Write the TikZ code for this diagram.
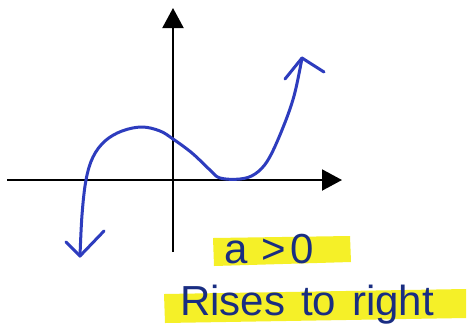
\documentclass[tikz,border=0pt]{standalone}
\usepackage{fontspec}
\setmainfont{Liberation Sans}
\usetikzlibrary{arrows.meta}
\definecolor{curveblue}{RGB}{45,60,190}
\definecolor{inkblue}{RGB}{25,45,130}
\definecolor{hilite}{RGB}{245,240,40}
\tikzset{
  axis/.style={line width=2pt,-{Triangle[length=20pt,width=21pt]}},
  curve/.style={curveblue,line width=3pt,line cap=round,line join=round},
  label/.style={inkblue,font=\fontsize{42}{42}\selectfont,inner sep=0pt,anchor=base west},
}
\begin{document}
\begin{tikzpicture}[x=1pt,y=-1pt]
\useasboundingbox (0,0) rectangle (470,330);
\fill[white] (0,0) rectangle (470,330);
% highlights
\fill[hilite] (213,238) -- (350,236) -- (351,262) -- (214,266) -- cycle;
\fill[hilite] (164,294) -- (466,289) -- (466,318) -- (165,323) -- cycle;
% axes
\coordinate (xl) at (7,180);
\coordinate (xr) at (342,180);
\coordinate (yb) at (173,252);
\coordinate (yt) at (173,8);
\draw[axis] (xl) -- (xr);
\draw[axis] (yb) -- (yt);
% curve
\coordinate (lt) at (80,256);
\coordinate (rt) at (302,58);
\draw[curve] plot[smooth,tension=0.6] coordinates {(lt) (82,215) (86,180) (93,157) (105,141) (122,131) (142,127) (160,131) (173,139) (192,153) (210,170) (220,178) (240,179) (255,174) (268,160) (282,130) (294,96) (rt)};
\draw[curve] (66,242) -- (lt) -- (104,231);
\draw[curve] (285,79) -- (rt) -- (324,72);
% labels
\node[label] (a) at (224,263) {a\hspace{14pt}>\hspace{4pt}0};
\node[label] (r) at (180,315) {Rises\hspace{16pt}to\hspace{16pt}right};
\end{tikzpicture}
\end{document}
